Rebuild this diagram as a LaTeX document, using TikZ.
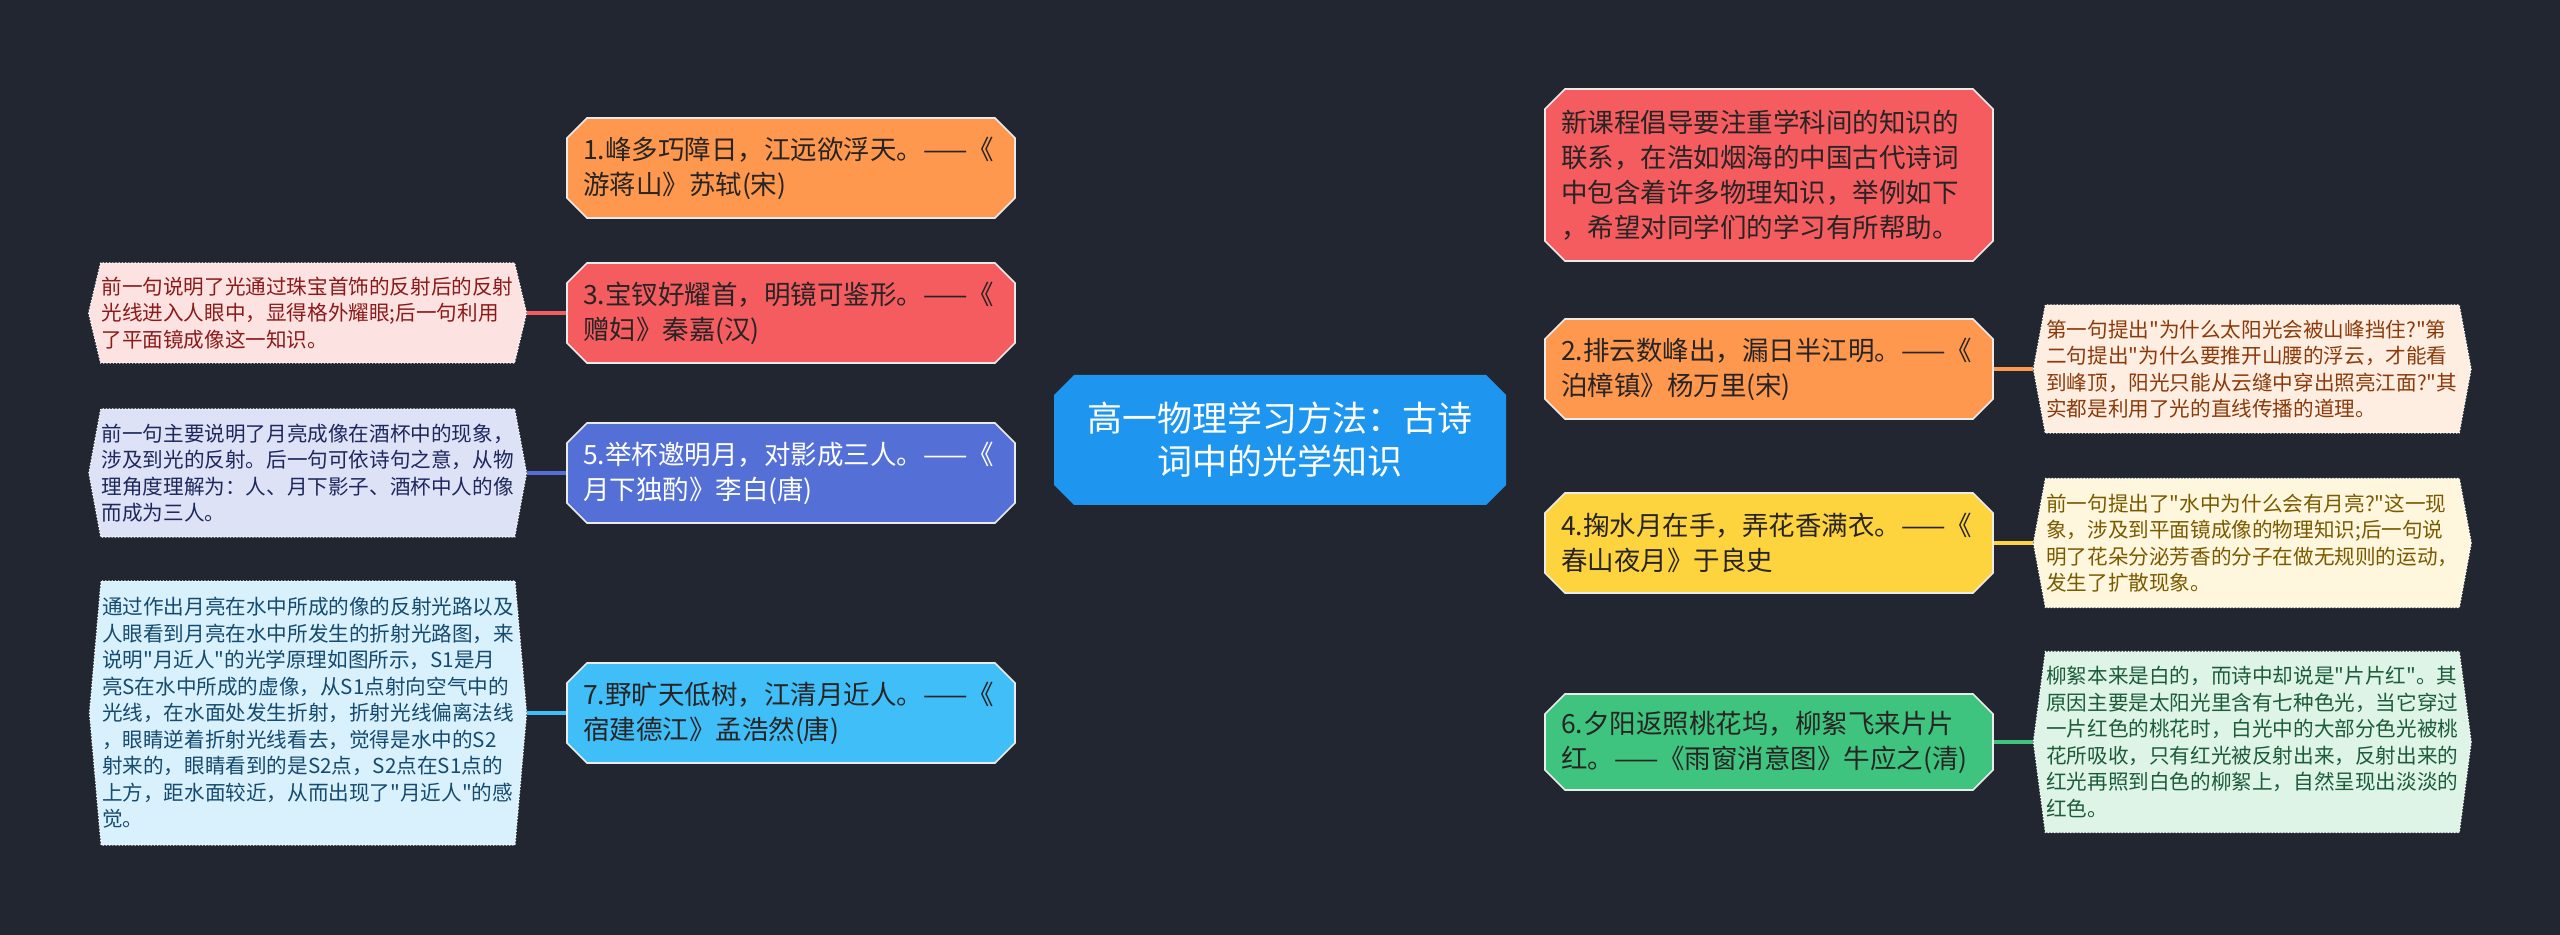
\documentclass[tikz,border=0pt]{standalone}
\usepackage{fontspec}
\setmainfont{Noto Sans CJK SC}[Ligatures=TeXOff]
\usetikzlibrary{shapes.misc,shapes.symbols,positioning,calc,backgrounds}

\definecolor{bgdark}{RGB}{34,38,48}
\definecolor{hubblue}{RGB}{30,150,240}
\definecolor{orangeA}{RGB}{254,152,78}
\definecolor{redA}{RGB}{244,92,96}
\definecolor{indigoA}{RGB}{84,112,214}
\definecolor{skyA}{RGB}{64,190,248}
\definecolor{yellowA}{RGB}{253,212,62}
\definecolor{greenA}{RGB}{62,196,126}
\definecolor{inkA}{RGB}{40,36,36}
% note colours: fill / text
\definecolor{pinkL}{RGB}{253,226,226}   \definecolor{pinkT}{RGB}{139,26,26}
\definecolor{lavL}{RGB}{221,226,246}    \definecolor{lavT}{RGB}{30,40,92}
\definecolor{iceL}{RGB}{216,241,253}    \definecolor{iceT}{RGB}{22,74,110}
\definecolor{peachL}{RGB}{254,238,226}  \definecolor{peachT}{RGB}{139,58,11}
\definecolor{creamL}{RGB}{254,246,221}  \definecolor{creamT}{RGB}{122,90,0}
\definecolor{mintL}{RGB}{221,244,231}   \definecolor{mintT}{RGB}{29,92,59}

\begin{document}
\begin{tikzpicture}[
  x=0.5pt, y=-0.5pt,
  hubnode/.style={chamfered rectangle, chamfered rectangle xsep=5pt, chamfered rectangle ysep=5pt,
    fill=hubblue, text=white, minimum width=226pt, minimum height=65pt, inner sep=0pt,
    align=center, font=\fontsize{17.5pt}{21.5pt}\selectfont},
  topic/.style={chamfered rectangle, chamfered rectangle xsep=5pt, chamfered rectangle ysep=5pt,
    draw=white!92!black, line width=0.8pt, text=inkA, minimum width=224pt, minimum height=50pt,
    text width=208pt, inner xsep=0pt, inner ysep=0pt, align=left,
    font=\fontsize{13.25pt}{17.5pt}\selectfont},
  leaf/.style={signal, signal to=west and east, draw=white, densely dotted, line width=0.6pt,
    text width=206pt, inner xsep=0.5pt, inner ysep=0pt, align=left,
    font=\fontsize{10.3pt}{13.25pt}\selectfont},
  branch/.style={line width=1.6pt},
]

\fill[bgdark] (0,0) rectangle (2560,935);
\useasboundingbox (0,0) rectangle (2560,935);

%% --- centre ---
\node[hubnode] (hub) at (1280,440) {高一物理学习方法：古诗\\词中的光学知识};
\coordinate (hubL) at ($(hub.west)+(-15,0)$);
\coordinate (hubR) at ($(hub.east)+(16,0)$);

%% --- left branches ---
\node[topic, fill=orangeA] (n1) at (791,168) {1.峰多巧障日，江远欲浮天。——《\\游蒋山》苏轼(宋)};
\node[topic, fill=redA] (n3) at (791,313) {3.宝钗好耀首，明镜可鉴形。——《\\赠妇》秦嘉(汉)};
\node[topic, fill=indigoA, text=white] (n5) at (791,473) {5.举杯邀明月，对影成三人。——《\\月下独酌》李白(唐)};
\node[topic, fill=skyA] (n7) at (791,713) {7.野旷天低树，江清月近人。——《\\宿建德江》孟浩然(唐)};

%% --- right branches ---
\node[topic, fill=redA, minimum height=86pt] (intro) at (1769,175)
  {新课程倡导要注重学科间的知识的\\联系，在浩如烟海的中国古代诗词\\中包含着许多物理知识，举例如下\\，希望对同学们的学习有所帮助。};
\node[topic, fill=orangeA] (n2) at (1769,369) {2.排云数峰出，漏日半江明。——《\\泊樟镇》杨万里(宋)};
\node[topic, fill=yellowA] (n4) at (1769,543) {4.掬水月在手，弄花香满衣。——《\\春山夜月》于良史};
\node[topic, fill=greenA, minimum height=48pt] (n6) at (1769,742) {6.夕阳返照桃花坞，柳絮飞来片片\\红。——《雨窗消意图》牛应之(清)};

%% --- notes, left ---
\node[leaf, fill=pinkL, text=pinkT, minimum height=50pt, signal pointer angle=153, left=19.5pt of n3] (l3)
  {前一句说明了光通过珠宝首饰的反射后的反射\\光线进入人眼中，显得格外耀眼;后一句利用\\了平面镜成像这一知识。};
\node[leaf, fill=lavL, text=lavT, minimum height=64pt, signal pointer angle=159, left=19.5pt of n5] (l5)
  {前一句主要说明了月亮成像在酒杯中的现象，\\涉及到光的反射。后一句可依诗句之意，从物\\理角度理解为：人、月下影子、酒杯中人的像\\而成为三人。};
\node[leaf, fill=iceL, text=iceT, minimum height=132pt, signal pointer angle=170, left=19.5pt of n7] (l7)
  {通过作出月亮在水中所成的像的反射光路以及\\人眼看到月亮在水中所发生的折射光路图，来\\说明"月近人"的光学原理如图所示，S1是月\\亮S在水中所成的虚像，从S1点射向空气中的\\光线，在水面处发生折射，折射光线偏离法线\\，眼睛逆着折射光线看去，觉得是水中的S2\\射来的，眼睛看到的是S2点，S2点在S1点的\\上方，距水面较近，从而出现了"月近人"的感\\觉。};

%% --- notes, right ---
\node[leaf, fill=peachL, text=peachT, minimum height=64pt, signal pointer angle=159, right=19.5pt of n2] (l2)
  {第一句提出"为什么太阳光会被山峰挡住?"第\\二句提出"为什么要推开山腰的浮云，才能看\\到峰顶，阳光只能从云缝中穿出照亮江面?"其\\实都是利用了光的直线传播的道理。};
\node[leaf, fill=creamL, text=creamT, minimum height=64.5pt, signal pointer angle=159, right=19.5pt of n4] (l4)
  {前一句提出了"水中为什么会有月亮?"这一现\\象，涉及到平面镜成像的物理知识;后一句说\\明了花朵分泌芳香的分子在做无规则的运动，\\发生了扩散现象。};
\node[leaf, fill=mintL, text=mintT, minimum height=90.5pt, signal pointer angle=165, right=19.5pt of n6] (l6)
  {柳絮本来是白的，而诗中却说是"片片红"。其\\原因主要是太阳光里含有七种色光，当它穿过\\一片红色的桃花时，白光中的大部分色光被桃\\花所吸收，只有红光被反射出来，反射出来的\\红光再照到白色的柳絮上，自然呈现出淡淡的\\红色。};

%% --- connectors ---
\begin{scope}[on background layer]
  \foreach \n/\c in {n1/orangeA, n3/redA, n5/indigoA, n7/skyA} {
    \fill[\c] ($(hubL)+(0,-4)$) -- ($(\n.east)+(0,-1)$) -- ($(\n.east)+(0,1)$) -- ($(hubL)+(0,4)$) -- cycle;
  }
  \draw[skyA, line width=4pt] (hub.west) -- (hubL);
  \foreach \n/\c in {intro/redA, n2/orangeA, n4/yellowA, n6/greenA} {
    \fill[\c] ($(hubR)+(0,-4)$) -- ($(\n.west)+(0,-1)$) -- ($(\n.west)+(0,1)$) -- ($(hubR)+(0,4)$) -- cycle;
  }
  \draw[greenA, line width=4pt] (hub.east) -- (hubR);
\end{scope}
\draw[branch, redA] (n3.west) -- (l3.east);
\draw[branch, indigoA] (n5.west) -- (l5.east);
\draw[branch, skyA] (n7.west) -- (l7.east);
\draw[branch, orangeA] (n2.east) -- (l2.west);
\draw[branch, yellowA] (n4.east) -- (l4.west);
\draw[branch, greenA] (n6.east) -- (l6.west);

\end{tikzpicture}
\end{document}
